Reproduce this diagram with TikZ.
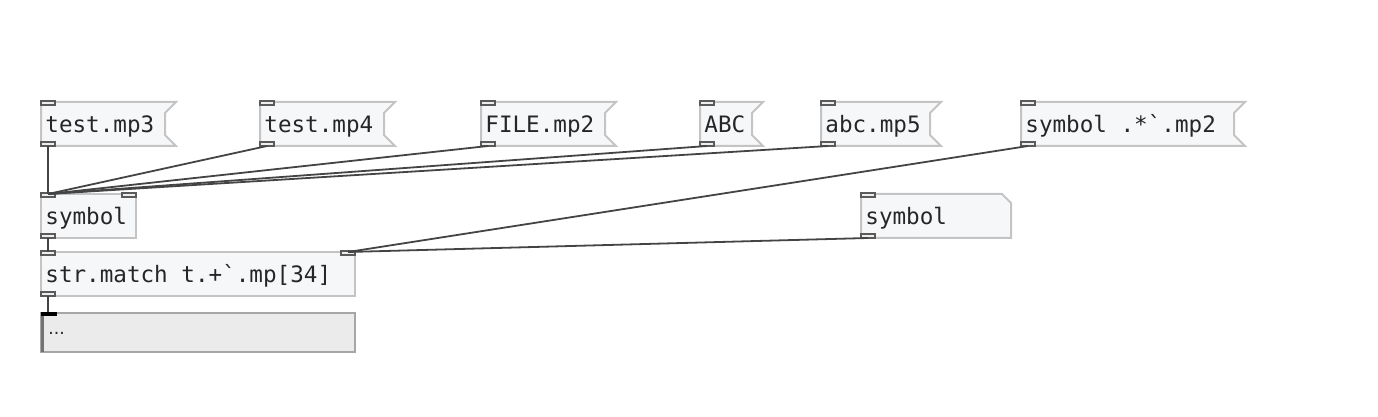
\documentclass[tikz,border=0pt]{standalone}
\usepackage{fontspec}
\setmonofont{DejaVu Sans Mono}
\setsansfont{DejaVu Sans}
\definecolor{cajafondo}{HTML}{F6F7F9}
\definecolor{cajaborde}{HTML}{C4C4C4}
\definecolor{puertoborde}{HTML}{5A5A5A}
\definecolor{puertofondo}{HTML}{EEEEEE}
\definecolor{cablegris}{HTML}{444444}
\definecolor{listafondo}{HTML}{EBEBEB}
\definecolor{listaborde}{HTML}{A6A6A6}
\tikzset{
  caja/.style={fill=cajafondo, draw=cajaborde, line width=1pt},
  puerto/.style={fill=puertofondo, draw=puertoborde, line width=0.8pt},
  texto/.style={anchor=base west, inner sep=0pt, text=black!85,
    font=\ttfamily\fontsize{11.3}{13}\selectfont},
  cable/.style={draw=cablegris, line width=0.9pt},
}
\begin{document}
\begin{tikzpicture}[x=0.5pt, y=-0.5pt, line join=miter]
  \useasboundingbox (0,0) rectangle (1378,417);
  % los mensajes de arriba
  \foreach \xa/\xb/\n/\t in {41/176/mp3/test.mp3, 260/395/mp4/test.mp4,
      481/616/file/FILE.mp2, 700/763/abc/ABC, 821/941/mpcinco/abc.mp5,
      1021/1245/simb/{symbol .*\textasciigrave.mp2}} {
    \filldraw[caja] (\xa,102) -- (\xb,102) -- (\xb-11,113) -- (\xb-11,135)
      -- (\xb,146) -- (\xa,146) -- cycle;
    \node[texto] (\n) at (\xa+4,132.5) {\t};
    \filldraw[puerto] (\xa,101) rectangle (\xa+14,105);
    \filldraw[puerto] (\xa,142) rectangle (\xa+14,146);
    \coordinate (\n-out) at (\xa+7,146);
  }
  % el objeto symbol
  \filldraw[caja] (41,194) rectangle (136,238);
  \node[texto] (sym) at (45,225) {symbol};
  \filldraw[puerto] (41,193) rectangle (55,197);
  \filldraw[puerto] (122,193) rectangle (136,197);
  \filldraw[puerto] (41,234) rectangle (55,238);
  \coordinate (sym-in) at (48,194);
  \coordinate (sym-out) at (48,238);
  % el atomo symbol, con la esquina cortada
  \filldraw[caja] (861,194) -- (1002,194) -- (1011,203) -- (1011,238) -- (861,238) -- cycle;
  \node[texto] (atomo) at (865,225) {symbol};
  \filldraw[puerto] (861,193) rectangle (875,197);
  \filldraw[puerto] (861,234) rectangle (875,238);
  \coordinate (atomo-out) at (868,238);
  % str.match
  \filldraw[caja] (41,252) rectangle (355,296);
  \node[texto] (match) at (45,283) {str.match t.+\textasciigrave.mp[34]};
  \filldraw[puerto] (41,251) rectangle (55,255);
  \filldraw[puerto] (341,251) rectangle (355,255);
  \filldraw[puerto] (41,292) rectangle (55,296);
  \coordinate (match-in) at (48,252);
  \coordinate (match-in2) at (348,252);
  \coordinate (match-out) at (48,296);
  % la lista de abajo
  \filldraw[fill=listafondo, draw=listaborde, line width=1pt] (41,313) rectangle (355,352);
  \draw[draw=black!55, line width=1.5pt] (42.5,313) -- (42.5,352);
  \fill[black] (41,311.5) rectangle (57,316);
  \node[texto, font=\sffamily\fontsize{8.6}{10}\selectfont] (lista) at (48,335) {...};
  \coordinate (lista-in) at (48,312);
  % los cables
  \foreach \n in {mp3, mp4, file, abc, mpcinco}
    \draw[cable] (\n-out) -- (sym-in);
  \draw[cable] (simb-out) -- (match-in2);
  \draw[cable] (atomo-out) -- (match-in2);
  \draw[cable] (sym-out) -- (match-in);
  \draw[cable] (match-out) -- (lista-in);
\end{tikzpicture}
\end{document}
